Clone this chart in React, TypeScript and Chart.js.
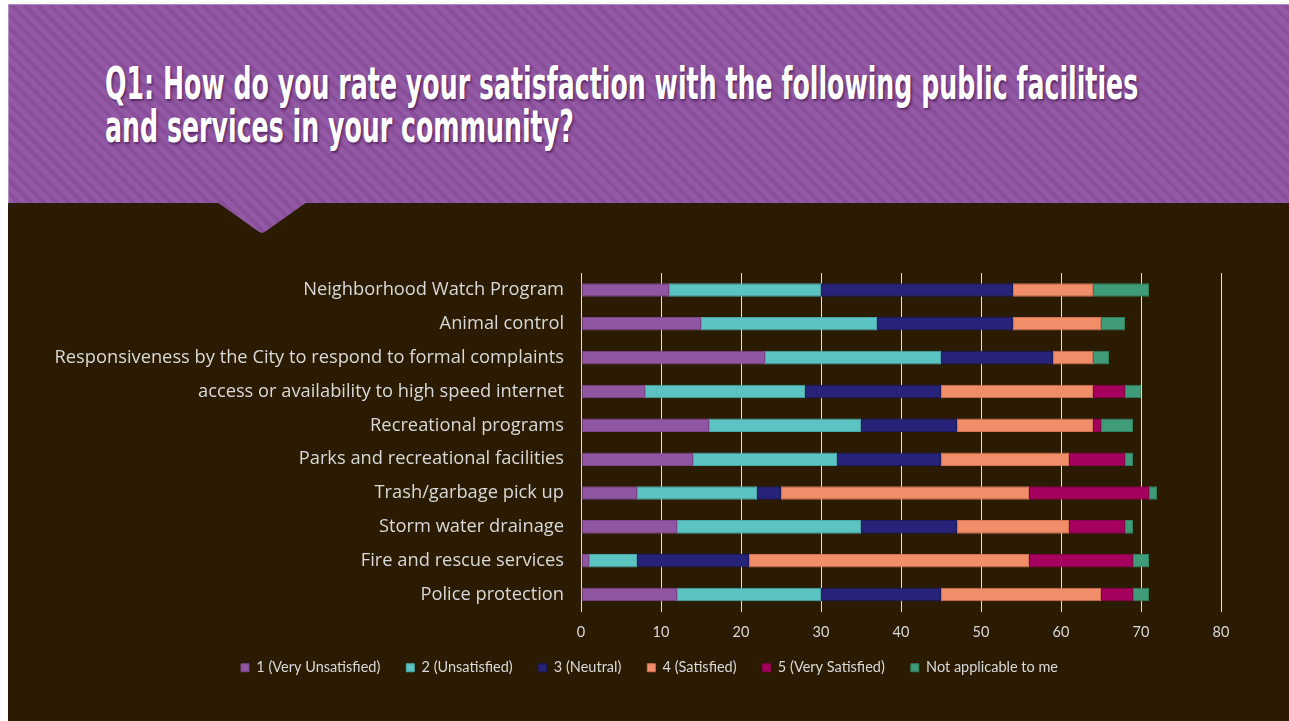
import React, { useEffect, useLayoutEffect, useRef } from "react";
import { Chart, registerables } from "chart.js";

Chart.register(...registerables);

const titleLines = [
  "Q1: How do you rate your satisfaction with the following public facilities",
  "and services in your community?",
];

const categories = [
  "Neighborhood Watch Program",
  "Animal control",
  "Responsiveness by the City to respond to formal complaints",
  "access or availability to high speed internet",
  "Recreational programs",
  "Parks and recreational facilities",
  "Trash/garbage pick up",
  "Storm water drainage",
  "Fire and rescue services",
  "Police protection",
];

const seriesNames = [
  "1 (Very Unsatisfied)",
  "2 (Unsatisfied)",
  "3 (Neutral)",
  "4 (Satisfied)",
  "5 (Very Satisfied)",
  "Not applicable to me",
];

const veryUnsatisfied = [11, 15, 23, 8, 16, 14, 7, 12, 1, 12];
const unsatisfied = [19, 22, 22, 20, 19, 18, 15, 23, 6, 18];
const neutral = [24, 17, 14, 17, 12, 13, 3, 12, 14, 15];
const satisfied = [10, 11, 5, 19, 17, 16, 31, 14, 35, 20];
const verySatisfied = [0, 0, 0, 4, 1, 7, 15, 7, 13, 4];
const notApplicable = [7, 3, 2, 2, 4, 1, 1, 1, 2, 2];

const xMin = 0;
const xMax = 80;
const xStep = 10;

const seriesColors = ["#9156A2", "#5BC4C3", "#262378", "#F28D69", "#A6005F", "#409C78"];
const seriesBorders = ["#7A4589", "#4AA9A8", "#1C1A5E", "#D07656", "#860049", "#31815F"];

const TEXT = "#D9D9D9";
const BG = "#2A1B02";

export default function App() {
  const canvasRef = useRef<HTMLCanvasElement | null>(null);
  const lineRefs = useRef<(HTMLDivElement | null)[]>([]);

  useLayoutEffect(() => {
    const first = lineRefs.current[0];
    if (!first) return;
    const w = first.scrollWidth;
    const scale = w > 0 ? 1033 / w : 1;
    lineRefs.current.forEach((el) => {
      if (el) el.style.transform = `scaleX(${scale})`;
    });
  }, []);

  useEffect(() => {
    if (!canvasRef.current) return;
    const seriesValues = [veryUnsatisfied, unsatisfied, neutral, satisfied, verySatisfied, notApplicable];
    const chart = new Chart(canvasRef.current, {
      type: "bar",
      data: {
        labels: categories,
        datasets: seriesNames.map((name, i) => ({
          label: name,
          data: seriesValues[i],
          backgroundColor: seriesColors[i],
          borderColor: seriesBorders[i],
          borderWidth: 1,
          borderSkipped: false,
          categoryPercentage: 0.8,
          barPercentage: 0.5,
        })),
      },
      options: {
        indexAxis: "y",
        animation: false,
        responsive: false,
        maintainAspectRatio: false,
        layout: { padding: { top: 273, bottom: 36, left: 0, right: 0 } },
        scales: {
          x: {
            stacked: true,
            min: xMin,
            max: xMax,
            ticks: {
              stepSize: xStep,
              color: TEXT,
              padding: 12,
              font: { family: "Lato, 'Open Sans', sans-serif", size: 14.5 },
            },
            grid: { color: "#E0E0E0", lineWidth: 1, drawTicks: false },
            border: { display: false },
            afterFit: (s: any) => {
              s.height = 23;
              s._computeLabelArea = () => null;
            },
          },
          y: {
            stacked: true,
            ticks: {
              color: TEXT,
              padding: 9,
              font: { family: "'Open Sans', sans-serif", size: 18.3 },
            },
            grid: { display: false },
            border: { display: false },
            afterFit: (s: any) => {
              s.width = 571;
            },
          },
          spacer: {
            type: "linear",
            axis: "y",
            position: "right",
            display: true,
            ticks: { display: false },
            grid: { display: false },
            border: { display: false },
            afterFit: (s: any) => {
              s.width = 68;
            },
          },
        } as any,
        plugins: {
          legend: {
            position: "bottom",
            labels: {
              boxWidth: 8,
              boxHeight: 8,
              padding: 26,
              color: TEXT,
              font: { family: "Lato, 'Open Sans', sans-serif", size: 14.5 },
            },
          },
          tooltip: { enabled: false },
        },
      },
    });
    return () => chart.destroy();
  }, []);

  return (
    <div>
      <div
        style={{
          position: "absolute",
          left: 8,
          top: 4,
          right: 0,
          bottom: 0,
          background: BG,
          overflow: "hidden",
        }}
      >
        <div
          style={{
            position: "absolute",
            left: 0,
            top: 0,
            right: 0,
            height: 199,
            background:
              "repeating-linear-gradient(45deg, #9359A4 0px, #9359A4 5px, #8A4F9B 5px, #8A4F9B 9px)",
            borderTop: "1px solid #B58CC2",
            borderLeft: "1px solid #B58CC2",
            boxSizing: "border-box",
          }}
        />
        <div
          style={{
            position: "absolute",
            left: 209,
            top: 198,
            width: 90,
            height: 31,
            background:
              "repeating-linear-gradient(45deg, #9359A4 0px, #9359A4 5px, #8A4F9B 5px, #8A4F9B 9px)",
            clipPath: "polygon(0 0, 100% 0, 53% 97%, 50% 100%, 47% 97%)",
          }}
        />
        <div style={{ position: "absolute", left: 97, top: 58 }}>
          {titleLines.map((t, i) => (
            <div
              key={i}
              ref={(el) => {
                lineRefs.current[i] = el;
              }}
              style={{
                display: "block",
                width: "max-content",
                whiteSpace: "nowrap",
                transformOrigin: "0 0",
                color: "#FFFFFF",
                fontFamily: "'DejaVu Sans Condensed', 'DejaVu Sans', sans-serif",
                fontStretch: "condensed",
                fontWeight: 700,
                fontSize: 44,
                lineHeight: "43px",
                textShadow: "2px 2px 3px rgba(40,0,50,0.55)",
              }}
            >
              {t}
            </div>
          ))}
        </div>
      </div>
      <canvas
        ref={canvasRef}
        width={1279}
        height={721}
        style={{ position: "absolute", left: 10, top: 0, width: 1279, height: 721 }}
      />
    </div>
  );
}
